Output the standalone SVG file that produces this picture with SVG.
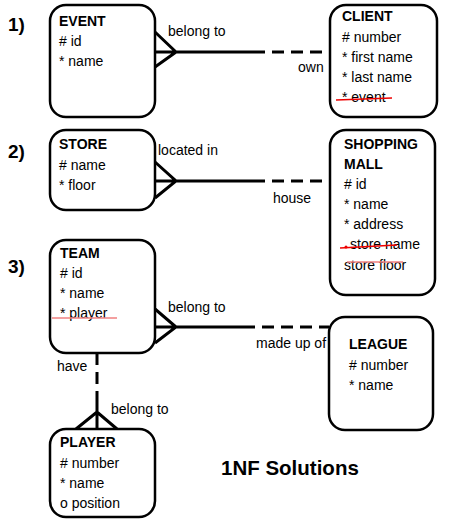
<svg xmlns="http://www.w3.org/2000/svg" width="454" height="528" viewBox="0 0 454 528">
<style>
.box{fill:#fff;stroke:#000;stroke-width:2.5}
.t{font-family:"Liberation Sans",Arial,sans-serif;font-size:14px;fill:#000}
.b{font-weight:bold}
.num{font-family:"Liberation Sans",Arial,sans-serif;font-size:19px;font-weight:bold}
.ln{stroke:#000;stroke-width:3;fill:none}
.dash{stroke:#000;stroke-width:3;fill:none;stroke-dasharray:12 7}
.red{stroke:#e00;stroke-width:1.5;fill:none}
.pred{stroke:#f08080;stroke-width:1.5;fill:none}
</style>
<rect width="454" height="528" fill="#fff"/>
<text class="num" x="8" y="31">1)</text>
<text class="num" x="8" y="158">2)</text>
<text class="num" x="8" y="273">3)</text>

<g id="connectors">
  <path class="ln" d="M155 52 H265 M155 32 L176 52 L155 67"/>
  <path class="dash" d="M272 52 H330"/>
  <path class="ln" d="M155 181 H265 M155 162 L176 181 L155 198"/>
  <path class="dash" d="M272 181 H330"/>
  <path class="ln" d="M155 327 H255 M155 309 L176 327 L155 343"/>
  <path class="dash" d="M262 327 H329"/>
  <path class="dash" d="M97 353 V400"/>
  <path class="ln" d="M97 400 V429 M76 429 L97 412 L117 429"/>
  <text class="t" x="168" y="36">belong to</text>
  <text class="t" x="298" y="72">own</text>
  <text class="t" x="158" y="155">located in</text>
  <text class="t" x="273" y="203">house</text>
  <text class="t" x="168" y="312">belong to</text>
  <text class="t" x="256" y="348">made up of</text>
  <text class="t" x="57" y="371">have</text>
  <text class="t" x="111" y="414">belong to</text>
</g>

<g id="event">
  <rect class="box" x="50" y="5" width="105" height="112" rx="16"/>
  <text class="t b" x="59" y="26">EVENT</text>
  <text class="t" x="59" y="46"># id</text>
  <text class="t" x="59" y="66">* name</text>
</g>
<g id="client">
  <rect class="box" x="330" y="5" width="107" height="112" rx="16"/>
  <text class="t b" x="342" y="21">CLIENT</text>
  <text class="t" x="342" y="42"># number</text>
  <text class="t" x="342" y="62">* first name</text>
  <text class="t" x="342" y="82">* last name</text>
  <text class="t" x="342" y="102">* event</text>
  <path class="red" d="M336 100 L392 98"/>
</g>
<g id="store">
  <rect class="box" x="50" y="130" width="105" height="80" rx="16"/>
  <text class="t b" x="59" y="149">STORE</text>
  <text class="t" x="59" y="170"># name</text>
  <text class="t" x="59" y="190">* floor</text>
</g>
<g id="mall">
  <rect class="box" x="330" y="130" width="105" height="165" rx="16"/>
  <text class="t b" x="344" y="149">SHOPPING</text>
  <text class="t b" x="344" y="169">MALL</text>
  <text class="t" x="344" y="189"># id</text>
  <text class="t" x="344" y="209">* name</text>
  <text class="t" x="344" y="229">* address</text>
  <text class="t" x="350" y="249">store name</text>
  <path class="red" d="M340 248 L397 245"/>
  <circle cx="346" cy="247" r="1.5" fill="#e00"/>
  <text class="t" x="344" y="270">store floor</text>
  <path class="pred" d="M347 262 H403"/>
</g>
<g id="team">
  <rect class="box" x="50" y="240" width="105" height="113" rx="16"/>
  <text class="t b" x="60" y="258">TEAM</text>
  <text class="t" x="60" y="278"># id</text>
  <text class="t" x="60" y="298">* name</text>
  <text class="t" x="60" y="318">* player</text>
  <path class="pred" d="M52 318 H117"/>
</g>
<g id="league">
  <rect class="box" x="329" y="317" width="104" height="113" rx="16"/>
  <text class="t b" x="349" y="349">LEAGUE</text>
  <text class="t" x="349" y="370"># number</text>
  <text class="t" x="349" y="390">* name</text>
</g>
<g id="player">
  <rect class="box" x="50" y="429" width="105" height="88" rx="16"/>
  <text class="t b" x="60" y="447">PLAYER</text>
  <text class="t" x="60" y="468"># number</text>
  <text class="t" x="60" y="488">* name</text>
  <text class="t" x="60" y="508">o position</text>
</g>
<text x="221" y="475" style="font-family:'Liberation Sans',Arial,sans-serif;font-size:20.5px;font-weight:bold">1NF Solutions</text>
</svg>
